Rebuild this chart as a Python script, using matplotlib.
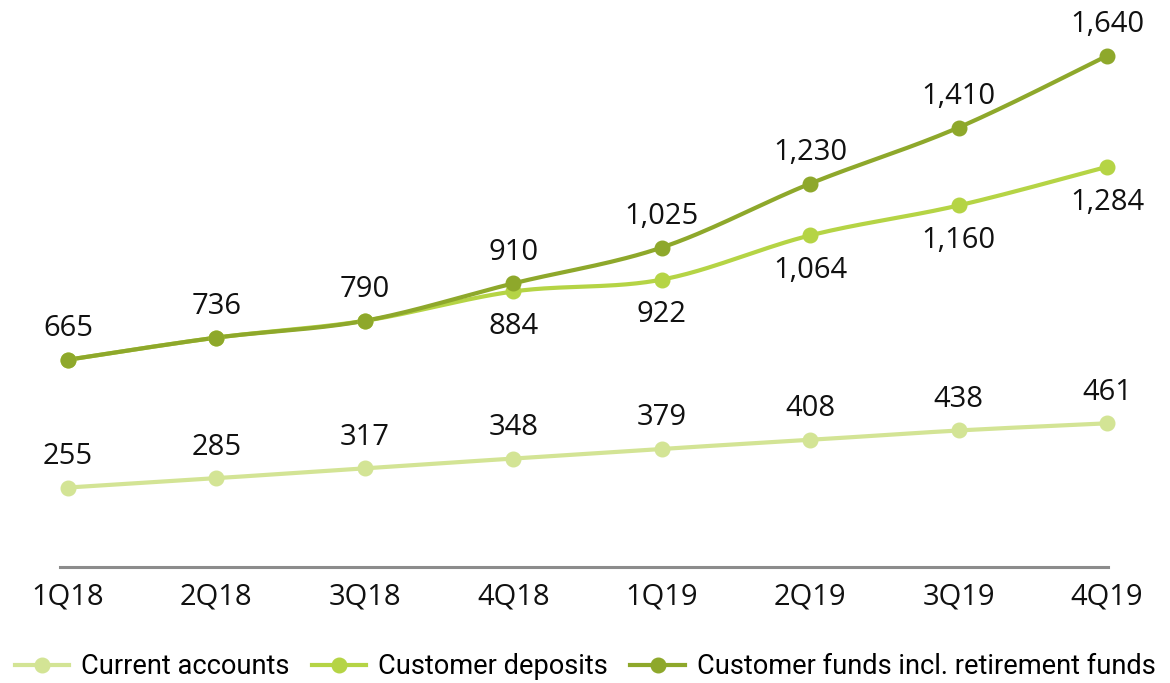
import numpy as np
import matplotlib
matplotlib.use("Agg")
import matplotlib.pyplot as plt
from matplotlib.lines import Line2D

plt.rcParams['font.family'] = ['Open Sans', 'DejaVu Sans']

quarters = ["1Q18", "2Q18", "3Q18", "4Q18", "1Q19", "2Q19", "3Q19", "4Q19"]
current_accounts = [255, 285, 317, 348, 379, 408, 438, 461]
customer_deposits = [665, 736, 790, 884, 922, 1064, 1160, 1284]
customer_funds = [665, 736, 790, 910, 1025, 1230, 1410, 1640]
series_names = ["Current accounts", "Customer deposits",
                "Customer funds incl. retirement funds"]
colors = ["#d3e495", "#b5d445", "#8ea82b"]
# label position: above / below
label_pos = ["above", "below", "above"]
deposit_label_from = 3  # first three deposit points coincide with funds


def smooth(xs, ys, n=30):
    """Excel-like Bezier smoothing of a polyline (for drawing only)."""
    P = np.column_stack([xs, ys]).astype(float)
    out = [P[0]]
    m = len(P)
    t = np.linspace(0, 1, n)[1:, None]
    for i in range(m - 1):
        p0 = P[i - 1] if i > 0 else P[i]
        p1, p2 = P[i], P[i + 1]
        p3 = P[i + 2] if i + 2 < m else P[i + 1]
        c1 = p1 + (p2 - p0) / 6.0
        c2 = p2 - (p3 - p1) / 6.0
        seg = ((1 - t) ** 3) * p1 + 3 * ((1 - t) ** 2) * t * c1 + 3 * (1 - t) * t ** 2 * c2 + t ** 3 * p2
        out.extend(seg)
    out = np.array(out)
    return out[:, 0], out[:, 1]


W, H = 1170, 683
fig = plt.figure(figsize=(W / 100, H / 100), dpi=100)
ax = fig.add_axes([60 / W, (H - 567) / H, 1048 / W, 561 / H])

x = np.arange(len(quarters))
data = [current_accounts, customer_deposits, customer_funds]

for vals, col in zip(data, colors):
    sx, sy = smooth(x, vals)
    ax.plot(sx, sy, color=col, lw=3, solid_capstyle='round', zorder=2, clip_on=False)
    ax.plot(x, vals, 'o', color=col, ms=10.5, zorder=3, clip_on=False)

fs = 21
for k, (vals, pos) in enumerate(zip(data, label_pos)):
    for i, v in enumerate(vals):
        if k == 1 and i < deposit_label_from:
            continue
        if pos == "above":
            ax.annotate(f"{v:,}", (i, v), xytext=(0, 12), textcoords='offset points',
                        ha='center', va='bottom', fontsize=fs, color='#111111')
        else:
            ax.annotate(f"{v:,}", (i, v), xytext=(0, -15), textcoords='offset points',
                        ha='center', va='top', fontsize=fs, color='#111111')

ax.set_xlim(-0.054, 7.007)
ax.set_ylim(0, 1800)
ax.set_xticks(x)
ax.set_xticklabels(quarters, fontsize=fs, color='#111111')
ax.tick_params(axis='x', length=0, pad=11)
ax.set_yticks([])
for s in ['top', 'right', 'left']:
    ax.spines[s].set_visible(False)
ax.spines['bottom'].set_color('#8c8c8c')
ax.spines['bottom'].set_linewidth(2.2)
ax.set_facecolor('none')

handles = [Line2D([], [], color=c, lw=3, marker='o', ms=10.5) for c in colors]
fig.legend(handles, series_names, loc='center', bbox_to_anchor=(585 / W, (H - 667) / H),
           ncol=3, frameon=False, prop={'family': ['Roboto', 'DejaVu Sans'], 'size': 19.6},
           handlelength=2.0, handletextpad=0.43,
           columnspacing=0.83, borderaxespad=0, borderpad=0)

fig.savefig("out.png", dpi=100)
